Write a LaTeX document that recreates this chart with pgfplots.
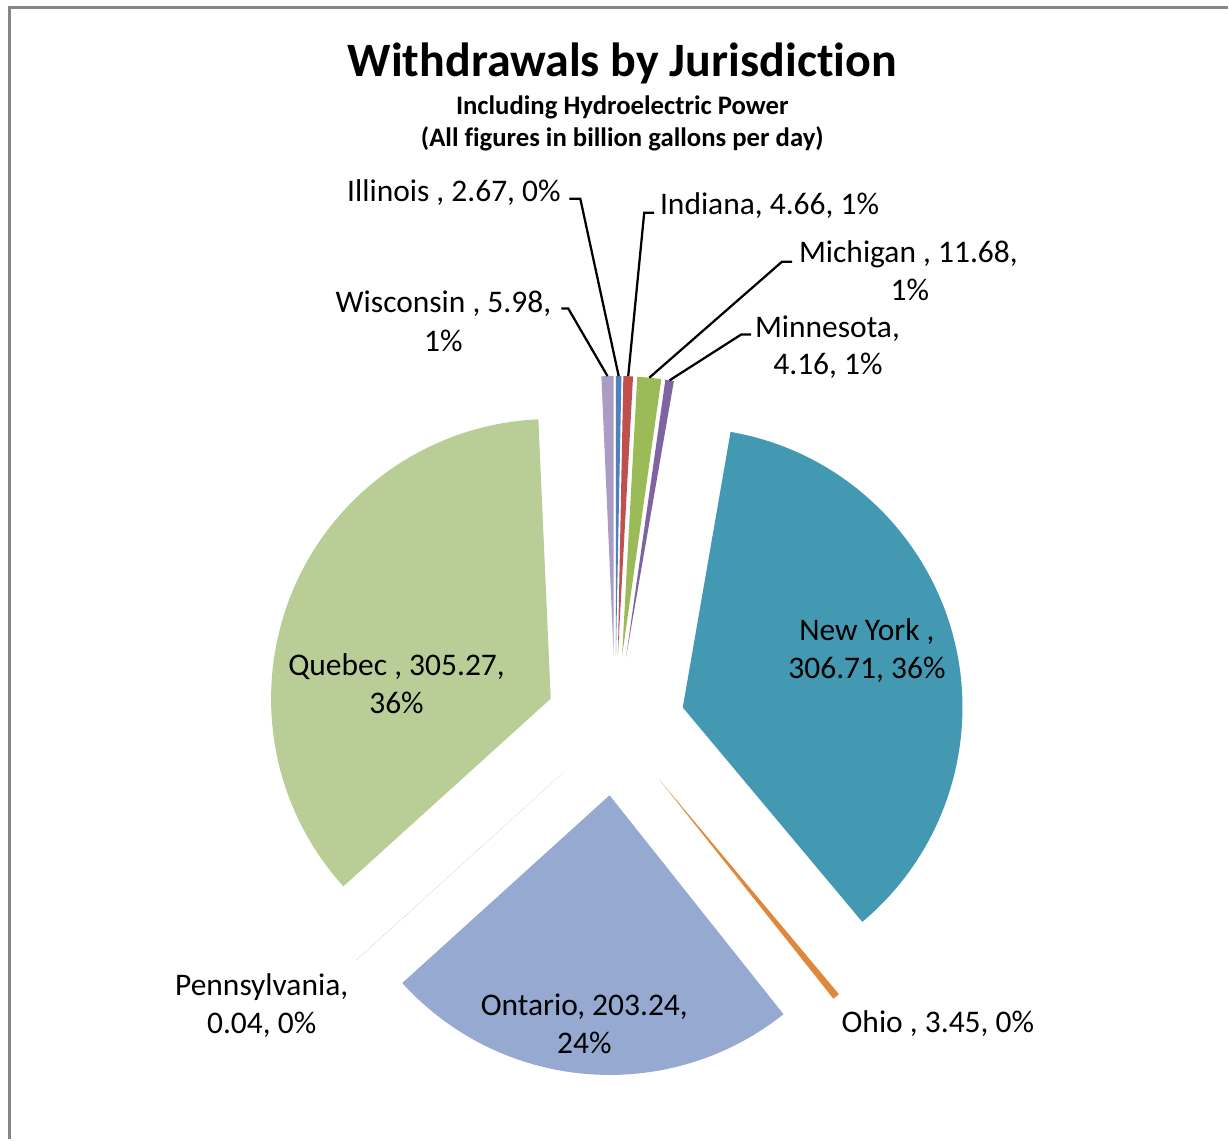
\documentclass[border=0pt]{standalone}
\usepackage{pgfplots}
\pgfplotsset{compat=1.18}
\usepackage{pgfplotstable}
\usepackage{fontspec}
\setmainfont{Carlito}[Ligatures={NoCommon}]

\definecolor{cIL}{HTML}{4F81BD}
\definecolor{cIN}{HTML}{C0504D}
\definecolor{cMI}{HTML}{9BBB59}
\definecolor{cMN}{HTML}{8064A2}
\definecolor{cNY}{HTML}{4399B1}
\definecolor{cOH}{HTML}{E0883A}
\definecolor{cON}{HTML}{95A9D1}
\definecolor{cPA}{HTML}{D09A99}
\definecolor{cQC}{HTML}{B9CE96}
\definecolor{cWI}{HTML}{AA9CC4}
\definecolor{frame}{HTML}{868686}

% jurisdiction, withdrawals (billion gallons per day), slice colour
\pgfplotstableread{
name value col
Illinois 2.67 cIL
Indiana 4.66 cIN
Michigan 11.68 cMI
Minnesota 4.16 cMN
NewYork 306.71 cNY
Ohio 3.45 cOH
Ontario 203.24 cON
Pennsylvania 0.04 cPA
Quebec 305.27 cQC
Wisconsin 5.98 cWI
}\piedata

\newcommand{\lab}[3]{\node[anchor=base, inner sep=0pt, font=\fontsize{12.6}{15}\selectfont] at (axis cs:#1,1140-#2) {#3};}

\begin{document}
\begin{tikzpicture}
\pgfplotstablegetrowsof{\piedata}
\pgfmathtruncatemacro\lastrow{\pgfplotsretval-1}
\def\total{0}
\pgfplotsforeachungrouped \i in {0,...,\lastrow}{%
  \pgfplotstablegetelem{\i}{value}\of\piedata
  \pgfmathsetmacro\total{\total+\pgfplotsretval}}
\begin{axis}[hide axis, scale only axis, x=0.4pt, y=0.4pt,
  xmin=0, xmax=1229, ymin=0, ymax=1140, clip=false]
\path (axis cs:0,0) rectangle (axis cs:1229,1140);
\def\cum{0}
\pgfplotsforeachungrouped \i in {0,...,\lastrow}{%
  \pgfplotstablegetelem{\i}{value}\of\piedata \let\sliceval\pgfplotsretval
  \pgfplotstablegetelem{\i}{col}\of\piedata \let\slicecol\pgfplotsretval
  \pgfmathsetmacro\aS{90-360*(\cum/\total)}
  \pgfmathsetmacro\cum{\cum+\sliceval}
  \pgfmathsetmacro\aE{90-360*(\cum/\total)}
  \pgfmathsetmacro\aM{(\aS+\aE)/2}
  \pgfmathsetmacro\tx{616+70*cos(\aM)}
  \pgfmathsetmacro\ty{413.5+70*sin(\aM)}
  \pgfmathsetmacro\ox{616+350*cos(\aM)}
  \pgfmathsetmacro\oy{413.5+350*sin(\aM)}
  \edef\tmp{\noexpand\fill[\slicecol] (axis cs:\tx,\ty) -- ++(\aS:112pt) arc[start angle=\aS, end angle=\aE, radius=112pt] -- cycle;
    \noexpand\coordinate (o\i) at (axis cs:\ox,\oy);}
  \tmp
}
% frame
\draw[frame, line width=1.2pt] (axis cs:10,0) -- (axis cs:10,1132) -- (axis cs:1229,1132);
% titles
\node[anchor=base, inner sep=0pt, font=\fontsize{19.2}{23}\selectfont\bfseries] at (axis cs:623,1140-77) {Withdrawals by Jurisdiction};
\node[anchor=base, inner sep=0pt, font=\fontsize{10.7}{13}\selectfont\bfseries] at (axis cs:623,1140-115) {Including Hydroelectric Power};
\node[anchor=base, inner sep=0pt, font=\fontsize{10.7}{13}\selectfont\bfseries] at (axis cs:623,1140-147) {(All figures in billion gallons per day)};
% leader lines
\draw[black, line width=0.9pt] (axis cs:570,1140-199) -- (axis cs:581,1140-199) -- (o0);
\draw[black, line width=0.9pt] (axis cs:562,1140-309) -- (axis cs:569,1140-309) -- (o9);
\draw[black, line width=0.9pt] (axis cs:655,1140-213) -- (axis cs:645,1140-213) -- (o1);
\draw[black, line width=0.9pt] (axis cs:793,1140-262) -- (axis cs:783,1140-262) -- (o2);
\draw[black, line width=0.9pt] (axis cs:752,1140-335) -- (axis cs:742,1140-335) -- (o3);
% labels
\lab{454.5}{202}{Illinois , 2.67, 0\%}
\lab{444}{313}{Wisconsin , 5.98,}
\lab{444}{351.5}{1\%}
\lab{770.5}{215}{Indiana, 4.66, 1\%}
\lab{909.5}{263}{Michigan , 11.68,}
\lab{911}{301}{1\%}
\lab{828.5}{338}{Minnesota,}
\lab{829}{375}{4.16, 1\%}
\lab{868}{641}{New York ,}
\lab{868}{679}{306.71, 36\%}
\lab{397}{676}{Quebec , 305.27,}
\lab{397}{714}{36\%}
\lab{585}{1017}{Ontario, 203.24,}
\lab{585}{1055}{24\%}
\lab{262}{997}{Pennsylvania,}
\lab{262}{1035}{0.04, 0\%}
\lab{939}{1034}{Ohio , 3.45, 0\%}
\end{axis}
\end{tikzpicture}
\end{document}
